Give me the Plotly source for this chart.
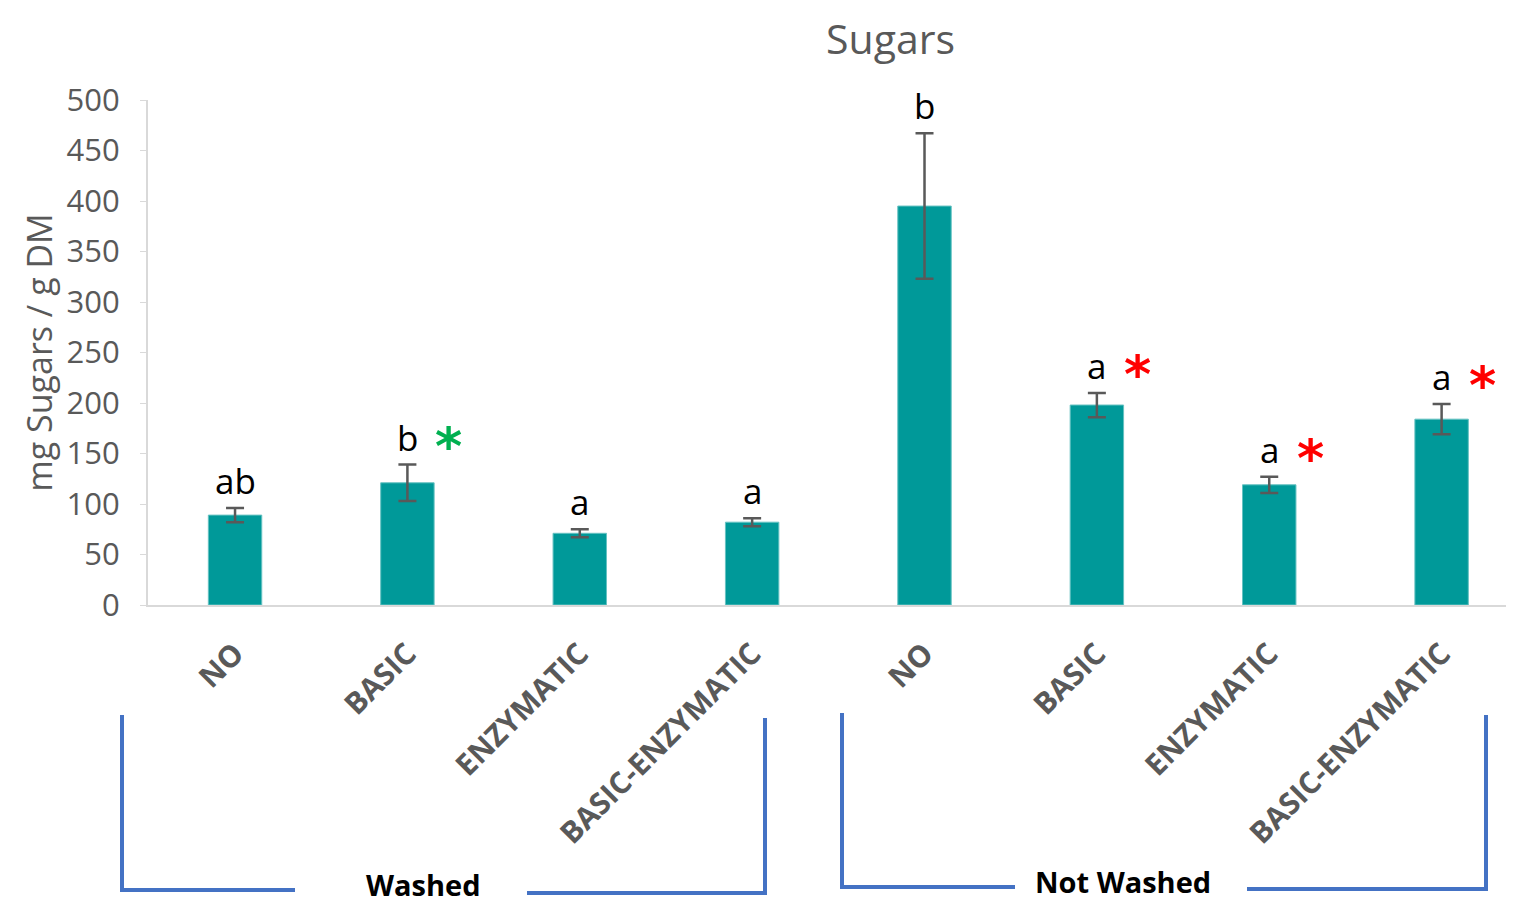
import plotly.graph_objects as go

# ---- data ----
categories = ["NO", "BASIC", "ENZYMATIC", "BASIC-ENZYMATIC",
              "NO", "BASIC", "ENZYMATIC", "BASIC-ENZYMATIC"]
sugars = [89, 121, 71, 82, 395, 198, 119, 184]
errors = [7, 18, 4, 4, 72, 12, 8, 15]
letters = ["ab", "b", "a", "a", "b", "a", "a", "a"]
stars = [None, "green", None, None, None, "red", "red", "red"]
groups = ["Washed", "Not Washed"]
y_ticks = [0, 50, 100, 150, 200, 250, 300, 350, 400, 450, 500]

OFF = 8  # page body margin
W, H = 1514 - OFF, 903 - OFF
L, R, T, B = 148 - OFF, 1514 - OFF, 100 - OFF, 605 - OFF
GRAY = "#595959"
BLUE = "#4472c4"
FONT = "Open Sans"


def pp(px, py):
    px -= OFF
    py -= OFF
    return (px - L) / (R - L), (B - py) / (B - T)


xs = list(range(len(categories)))

fig = go.Figure()
fig.add_trace(go.Bar(
    x=xs, y=sugars, width=0.31,
    marker=dict(color="#009999", line=dict(color="#66c2c2", width=1)),
    error_y=dict(type="data", array=errors, visible=True,
                 color=GRAY, thickness=2.5, width=9),
    showlegend=False,
))

annotations = []
star_colors = {"green": "#00b050", "red": "#ff0000"}
for i, (v, e, lt, st) in enumerate(zip(sugars, errors, letters, stars)):
    annotations.append(dict(x=i, y=v + e, xref="x", yref="y", text=lt,
                            showarrow=False, yanchor="bottom", yshift=2,
                            font=dict(family=FONT, size=35, color="black")))
    if st:
        annotations.append(dict(x=i, y=v + e, xref="x", yref="y", text="<b>*</b>",
                                showarrow=False, yanchor="bottom", xshift=41, yshift=-13,
                                font=dict(family="DejaVu Sans", size=52,
                                          color=star_colors[st])))

# group labels
for name, (cx, cy) in zip(groups, [(423, 884), (1123, 881)]):
    x, y = pp(cx, cy)
    annotations.append(dict(x=x, y=y, xref="paper", yref="paper", text=f"<b>{name}</b>",
                            showarrow=False, xanchor="center", yanchor="middle",
                            font=dict(family=FONT, size=29, color="black")))

# title as annotation anchored at the top of the page
tx, _ = pp(890, 0)
annotations.append(dict(x=tx, y=1, xref="paper", yref="paper", text="Sugars",
                        showarrow=False, xanchor="center", yanchor="top",
                        yshift=T, font=dict(family=FONT, size=41, color=GRAY)))

# brackets
bracket_paths = [
    [(122, 715), (122, 890), (295, 890)],
    [(527, 893), (765, 893), (765, 718)],
    [(842, 713), (842, 887), (1015, 887)],
    [(1247, 889), (1486, 889), (1486, 715)],
]
shapes = []
for pts in bracket_paths:
    cs = [pp(*p) for p in pts]
    path = "M " + " L ".join(f"{x},{y}" for x, y in cs)
    shapes.append(dict(type="path", path=path, xref="paper", yref="paper",
                       line=dict(color=BLUE, width=4)))

fig.update_layout(
    width=W, height=H,
    margin=dict(l=L, r=W - R, t=T, b=H - B, pad=0),
    paper_bgcolor="white", plot_bgcolor="white",
    xaxis=dict(
        tickmode="array", tickvals=xs, ticktext=categories,
        range=[-0.505, 7.42], tickangle=-45,
        tickfont=dict(family=FONT, size=30, color=GRAY, weight=700),
        showline=True, linecolor="#d9d9d9", linewidth=2,
        ticks="", showgrid=False, zeroline=False,
        ticklabelstandoff=17,
    ),
    yaxis=dict(
        range=[0, 500], tickvals=y_ticks,
        tickfont=dict(family=FONT, size=31, color=GRAY),
        showline=True, linecolor="#d9d9d9", linewidth=2,
        ticks="outside", ticklen=6, tickcolor="#d9d9d9", tickwidth=1,
        ticklabelstandoff=14,
        showgrid=False, zeroline=False,
        title=dict(text="mg Sugars / g DM", standoff=4,
                   font=dict(family=FONT, size=34, color=GRAY)),
    ),
    annotations=annotations,
    shapes=shapes,
    bargap=0.6,
)

fig.write_html("out.html")
